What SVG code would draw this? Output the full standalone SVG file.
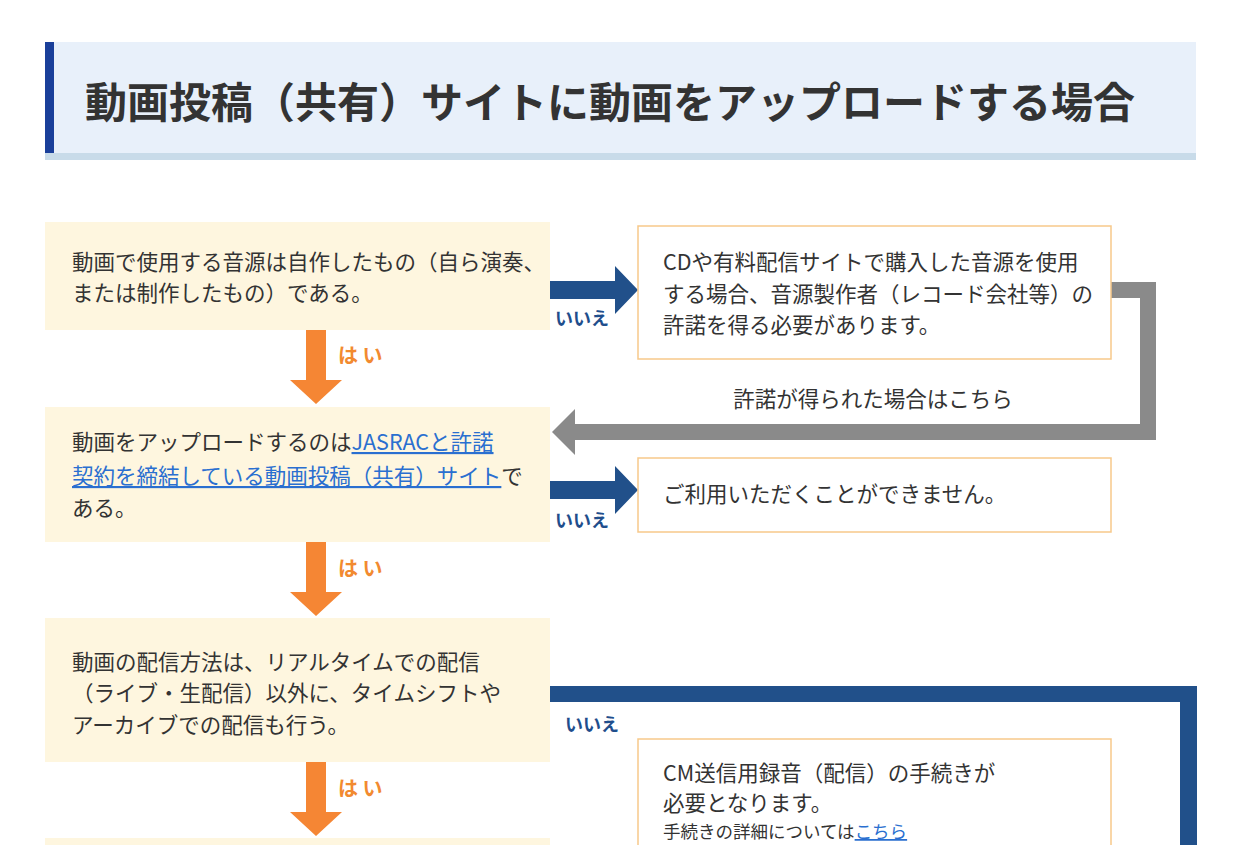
<svg xmlns="http://www.w3.org/2000/svg" width="1242" height="845" viewBox="0 0 1242 845">
<style>
text{font-family:"Noto Sans CJK JP","Noto Sans",sans-serif;fill:#333;font-weight:400}
.q{fill:#fef6df}
.a{fill:#fff;stroke:#f7c98a;stroke-width:1.5}
.t{font-size:21.5px}
.no{font-size:18px;fill:#1f4e8c;font-weight:bold}
.yes{font-size:20px;fill:#f28a30;font-weight:bold}
.lk{fill:#2a6fd0;text-decoration:underline}
.blue{fill:#21508a}.gray{fill:#8a8a8a}.or{fill:#f58634}
</style>
<rect width="1242" height="845" fill="#fff"/>
<g id="title">
<rect x="45" y="42" width="1151" height="118" fill="#e8f0fa"/>
<rect x="45" y="153" width="1151" height="7" fill="#c8dbe9"/>
<rect x="45" y="42" width="9" height="111" fill="#1a3f9a"/>
<text x="85" y="118" font-size="42" style="font-weight:bold">動画投稿（共有）サイトに動画をアップロードする場合</text>
</g>
<g id="connectors">
<path class="blue" d="M550 281H615V266L638 290L615 314V299H550Z"/>
<text class="no" x="555" y="325">いいえ</text>
<path class="gray" d="M1111 282H1156V440H575V455L552 432L575 409V424H1140V298H1111Z"/>
<text x="873" y="407" font-size="21.5" text-anchor="middle">許諾が得られた場合はこちら</text>
<path class="or" d="M306 330H326V380H342L316 404L290 380H306Z"/>
<text class="yes" x="338" y="363">は い</text>
<path class="blue" d="M550 481H615V466L638 490L615 514V499H550Z"/>
<text class="no" x="555" y="527">いいえ</text>
<path class="or" d="M306 542H326V592H342L316 616L290 592H306Z"/>
<text class="yes" x="338" y="576">は い</text>
<path class="blue" d="M550 686H1197V845H1180V702H550Z"/>
<text class="no" x="565" y="731">いいえ</text>
<path class="or" d="M306 762H326V812H342L316 836L290 812H306Z"/>
<text class="yes" x="338" y="796">は い</text>
</g>
<g id="q1"><rect class="q" x="45" y="222" width="505" height="108"/>
<text class="t" x="72" y="270">動画で使用する音源は自作したもの（自ら演奏、</text>
<text class="t" x="72" y="301">または制作したもの）である。</text></g>
<g id="a1"><rect class="a" x="638" y="226" width="473" height="133"/>
<text class="t" x="663" y="270">CDや有料配信サイトで購入した音源を使用</text>
<text class="t" x="663" y="302">する場合、音源製作者（レコード会社等）の</text>
<text class="t" x="663" y="333">許諾を得る必要があります。</text></g>
<g id="q2"><rect class="q" x="45" y="407" width="505" height="135"/>
<text class="t" x="72" y="450">動画をアップロードするのは<tspan class="lk">JASRACと許諾</tspan></text>
<text class="t" x="72" y="484"><tspan class="lk">契約を締結している動画投稿（共有）サイト</tspan>で</text>
<text class="t" x="72" y="516">ある。</text></g>
<g id="a2"><rect class="a" x="638" y="458" width="473" height="74"/>
<text class="t" x="663" y="502">ご利用いただくことができません。</text></g>
<g id="q3"><rect class="q" x="45" y="618" width="505" height="144"/>
<text class="t" x="72" y="670">動画の配信方法は、リアルタイムでの配信</text>
<text class="t" x="72" y="701">（ライブ・生配信）以外に、タイムシフトや</text>
<text class="t" x="72" y="733">アーカイブでの配信も行う。</text></g>
<g id="a3"><rect class="a" x="638" y="739" width="473" height="120"/>
<text class="t" x="663" y="781">CM送信用録音（配信）の手続きが</text>
<text class="t" x="663" y="811">必要となります。</text>
<text x="663" y="838" font-size="17.5">手続きの詳細については<tspan class="lk">こちら</tspan></text></g>
<g id="q4"><rect class="q" x="45" y="838" width="505" height="20"/></g>
</svg>
